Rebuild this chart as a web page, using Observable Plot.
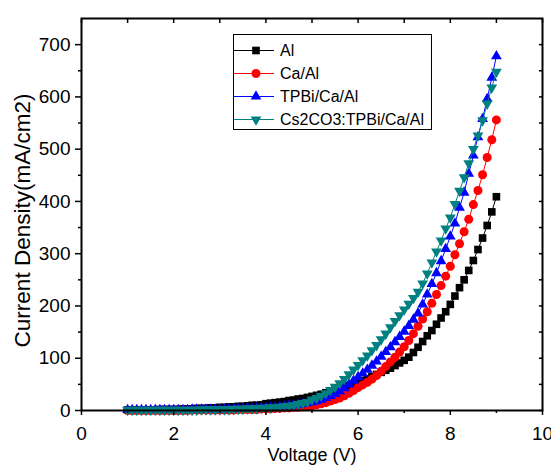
<!DOCTYPE html>
<html><head><meta charset="utf-8">
<script src="https://cdn.jsdelivr.net/npm/d3@7"></script>
<script src="https://cdn.jsdelivr.net/npm/@observablehq/plot@0.6"></script>
<style>
body{margin:0;background:#fff;font-family:"Liberation Sans",Arial,sans-serif;}
#wrap{position:relative;width:551px;height:466px;overflow:hidden;background:#fff;}
#legend{position:absolute;left:233px;top:34px;width:199px;height:96px;border:1px solid #000;background:#fff;box-sizing:border-box;padding-top:4px;}
#legend .row{height:23px;display:flex;align-items:center;font-size:16px;white-space:nowrap;}
#legend svg{width:40px;height:23px;margin-right:6px;flex:none;}
</style></head><body><div id="wrap"></div>
<script>
const voltage = [1.0,1.1,1.2,1.3,1.4,1.5,1.6,1.7,1.8,1.9,
  2.0,2.1,2.2,2.3,2.4,2.5,2.6,2.7,2.8,2.9,
  3.0,3.1,3.2,3.3,3.4,3.5,3.6,3.7,3.8,3.9,
  4.0,4.1,4.2,4.3,4.4,4.5,4.6,4.7,4.8,4.9,
  5.0,5.1,5.2,5.3,5.4,5.5,5.6,5.7,5.8,5.9,
  6.0,6.1,6.2,6.3,6.4,6.5,6.6,6.7,6.8,6.9,
  7.0,7.1,7.2,7.3,7.4,7.5,7.6,7.7,7.8,7.9,
  8.0,8.1,8.2,8.3,8.4,8.5,8.6,8.7,8.8,8.9,9.0];
const alJ = [1,1,1,1,1,1,1,2,2,2,
  2,2,3,3,3,4,4,4,5,5,
  6,6,7,7,8,8,9,10,10,11,
  13,14,15,16,17,19,20,22,23,25,
  27,29,31,34,36,39,42,45,48,51,
  54,57,61,65,69,73,77,81,86,91,
  96,102,111,121,132,143,153,165,177,189,
  203,219,235,250,268,287,308,330,354,380,409];
const caAlJ = [0,0,0,0,0,0,0,0,0,0,
  0,0,0,0,1,1,1,1,1,1,
  1,1,1,1,2,2,2,2,2,3,
  3,3,4,4,5,5,6,6,7,8,
  9,11,13,15,18,21,24,28,33,38,
  44,49,54,60,67,75,84,93,102,112,
  122,134,147,161,175,189,205,222,239,257,
  276,298,319,342,366,394,421,451,484,518,556];
const tpbiJ = [1,1,1,1,1,1,1,1,1,1,
  1,1,1,1,2,2,2,2,2,2,
  2,2,3,3,3,3,4,4,4,5,
  5,6,6,7,8,9,10,11,12,14,
  16,18,21,24,28,32,37,43,50,57,
  64,71,78,86,94,103,112,121,131,141,
  151,162,174,186,203,222,242,263,286,309,
  333,358,388,417,453,488,523,558,596,637,678];
const cs2co3J = [1,1,1,1,1,1,1,1,1,1,
  1,1,1,1,1,1,2,2,2,2,
  2,2,2,3,3,3,4,4,4,5,
  5,6,6,7,8,9,10,12,14,16,
  21,24,28,33,39,45,52,60,69,78,
  87,96,105,115,125,136,147,159,171,182,
  193,204,215,227,243,262,283,304,325,348,
  369,395,420,446,473,500,526,555,587,618,648];
const seriesNames = ["Al","Ca/Al","TPBi/Ca/Al","Cs2CO3:TPBi/Ca/Al"];
const seriesColors = ["#000000","#ff0000","#0000ff","#008080"];
const seriesValues = [alJ, caAlJ, tpbiJ, cs2co3J];
const xTicks = [0,2,4,6,8,10];
const xMinorTicks = [1,3,5,7,9];
const xAllTicks = [0,1,2,3,4,5,6,7,8,9,10];
const yTicks = [0,100,200,300,400,500,600,700];
const yMinorTicks = [50,150,250,350,450,550,650];
const yAllTicks = [0,50,100,150,200,250,300,350,400,450,500,550,600,650,700];
const xTitle = "Voltage (V)";
const yTitle = "Current Density(mA/cm2)";

const sqrt3 = Math.sqrt(3);
const triangleDown = {
  draw(context, size) {
    const y = -Math.sqrt(size / (sqrt3 * 3));
    context.moveTo(0, -y * 2);
    context.lineTo(-sqrt3 * y, y);
    context.lineTo(sqrt3 * y, y);
    context.closePath();
  }
};
const symbols = ["square", "circle", "triangle", triangleDown];
const d3symbols = [d3.symbolSquare, d3.symbolCircle, d3.symbolTriangle, triangleDown];
const radii = [4.3, 4.5, 4.0, 4.0];

const rows = [];
seriesNames.forEach((name, si) => {
  voltage.forEach((v, i) => rows.push({series: name, si, v, j: seriesValues[si][i]}));
});

const marks = [];
seriesNames.forEach((name, si) => {
  const d = rows.filter(r => r.si === si);
  marks.push(Plot.line(d, {x: "v", y: "j", stroke: seriesColors[si], strokeWidth: 1}));
  marks.push(Plot.dot(d, {x: "v", y: "j", symbol: symbols[si], r: radii[si], fill: seriesColors[si], stroke: "none"}));
});

const chart = Plot.plot({
  width: 551, height: 466,
  marginLeft: 81, marginRight: 9, marginTop: 18, marginBottom: 56,
  style: {fontFamily: "'Liberation Sans', Arial, sans-serif", fontSize: "19px", background: "#fff", color: "#000"},
  x: {domain: [0, 10]},
  y: {domain: [0, 750]},
  marks: [
    ...marks,
    Plot.axisX(xTicks, {anchor: "bottom", tickSize: 5, tickPadding: 11, strokeWidth: 1.5, fontSize: 19, label: null}),
    Plot.axisX(xMinorTicks, {anchor: "bottom", tickSize: 3, strokeWidth: 1.5, tickFormat: () => "", label: null}),
    Plot.axisX(xAllTicks, {anchor: "top", tickSize: -4, strokeWidth: 1.5, tickFormat: () => "", label: null}),
    Plot.axisY(yTicks, {anchor: "left", tickSize: 6, tickPadding: 5, strokeWidth: 1.5, fontSize: 19, label: null}),
    Plot.axisY(yMinorTicks, {anchor: "left", tickSize: 3, strokeWidth: 1.5, tickFormat: () => "", label: null}),
    Plot.axisY(yAllTicks, {anchor: "right", tickSize: -4, strokeWidth: 1.5, tickFormat: () => "", label: null}),
    Plot.frame({stroke: "#000", strokeWidth: 2}),
    Plot.text([yTitle], {text: d => d, frameAnchor: "left", textAnchor: "middle", dx: -59, dy: 6, rotate: -90, fontSize: 22.5}),
    Plot.text([xTitle], {text: d => d, frameAnchor: "bottom", dy: 50, fontSize: 18})
  ]
});
const wrap = document.getElementById("wrap");
wrap.appendChild(chart);

const legend = document.createElement("div");
legend.id = "legend";
seriesNames.forEach((name, si) => {
  const row = document.createElement("div");
  row.className = "row";
  const svg = d3.create("svg").attr("viewBox", "0 0 40 23");
  svg.append("line").attr("x1", 0).attr("x2", 40).attr("y1", 11.5).attr("y2", 11.5)
    .attr("stroke", seriesColors[si]).attr("stroke-width", 1);
  svg.append("path").attr("transform", "translate(22,11.5)")
    .attr("d", d3.symbol(d3symbols[si], Math.PI * radii[si] * radii[si])())
    .attr("fill", seriesColors[si]);
  row.appendChild(svg.node());
  const span = document.createElement("span");
  span.textContent = name;
  row.appendChild(span);
  legend.appendChild(row);
});
wrap.appendChild(legend);
</script>
</body></html>
